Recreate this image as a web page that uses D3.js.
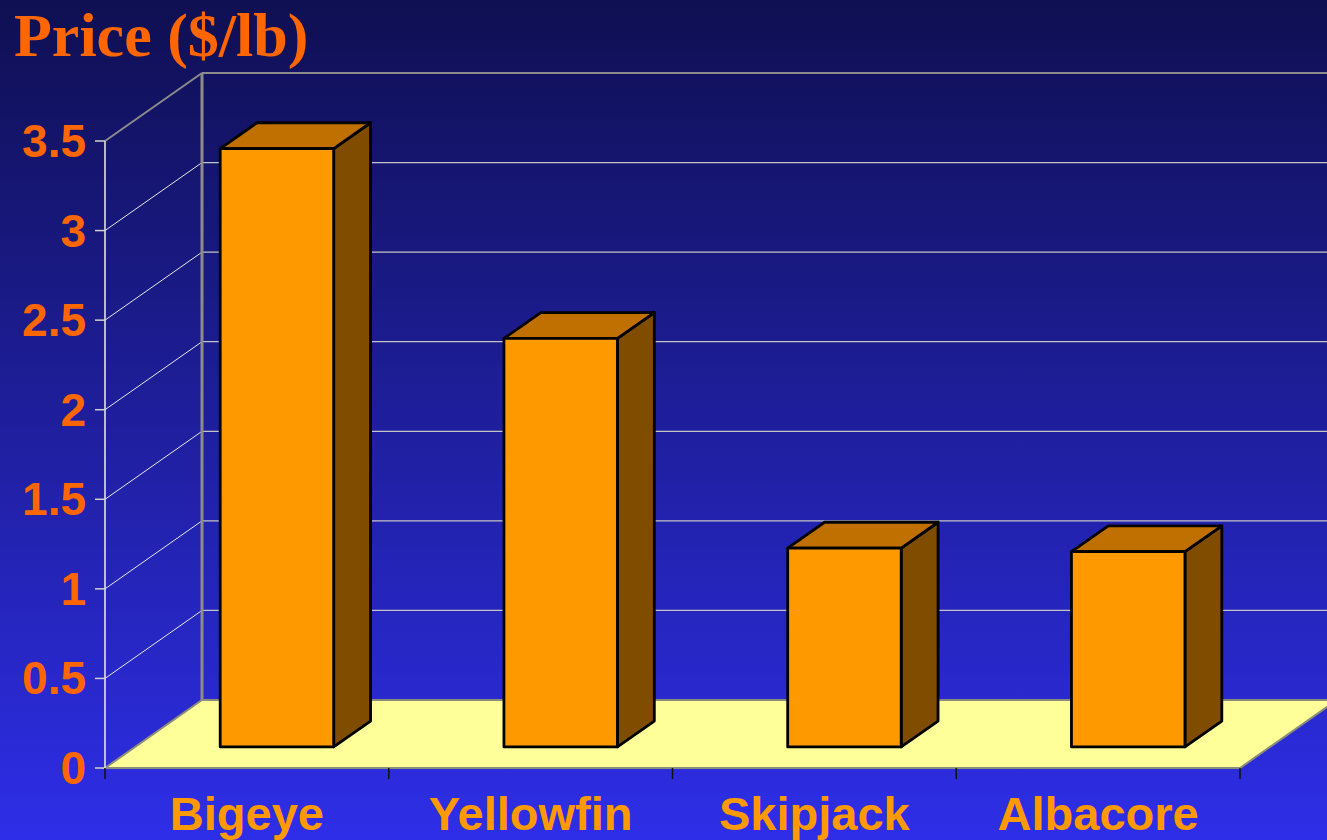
<!DOCTYPE html>
<html>
<head>
<meta charset="utf-8" />
<script src="https://d3js.org/d3.v7.min.js"></script>
<style>
  body { margin: 0; background: #10105a; }
  svg { display: block; }
  .ylab { font-family: "Liberation Sans", Arial, sans-serif; font-weight: bold; font-size: 46px; fill: #ff6600; }
  .xlab { font-family: "Liberation Sans", Arial, sans-serif; font-weight: bold; font-size: 47px; fill: #ff9900; }
  .title { font-family: "Liberation Serif", "Times New Roman", serif; font-weight: bold; font-size: 62px; fill: #ff6600; }
</style>
</head>
<body>
<svg width="1327" height="840"></svg>
<script>
var categories = ["Bigeye", "Yellowfin", "Skipjack", "Albacore"];
var prices = [3.34, 2.28, 1.11, 1.09];
var yTicks = [0, 0.5, 1, 1.5, 2, 2.5, 3, 3.5];
var yTickLabels = ["0", "0.5", "1", "1.5", "2", "2.5", "3", "3.5"];

var svg = d3.select("svg"),
    width = +svg.attr("width"),
    height = +svg.attr("height");

// depth offset of the 3d box
var DX = 97, DY = -68;
var barFront = 0.31, barBack = 0.69;

var x = d3.scaleBand().domain(categories).range([105, 1240]).padding(0);
var y = d3.scaleLinear().domain([0, 3.5]).range([768, 141]);
var barW = x.bandwidth() * 0.4;

// background
var defs = svg.append("defs");
var grad = defs.append("linearGradient").attr("id", "bg")
    .attr("x1", 0).attr("y1", 0).attr("x2", 0).attr("y2", 1);
grad.append("stop").attr("offset", "0%").attr("stop-color", "#0f0f52");
grad.append("stop").attr("offset", "100%").attr("stop-color", "#2e2ee8");
svg.append("rect").attr("width", width).attr("height", height).attr("fill", "url(#bg)");

// back wall grid lines
svg.append("g").selectAll("line")
    .data(yTicks.filter(function (d) { return d > 0; }))
    .enter().append("line")
    .attr("x1", 105 + DX).attr("x2", width)
    .attr("y1", function (d) { return y(d) + DY; })
    .attr("y2", function (d) { return y(d) + DY; })
    .attr("stroke", function (d) { return d === 3.5 ? "#8c8c8c" : "#c4c4c4"; })
    .attr("stroke-width", function (d) { return d === 3.5 ? 2 : 1.2; });

// side wall diagonals
svg.append("g").selectAll("line")
    .data(yTicks.filter(function (d) { return d > 0; }))
    .enter().append("line")
    .attr("x1", 105).attr("x2", 105 + DX)
    .attr("y1", function (d) { return y(d); })
    .attr("y2", function (d) { return y(d) + DY; })
    .attr("stroke", function (d) { return d === 3.5 ? "#8c8c8c" : "#e8e8e8"; })
    .attr("stroke-width", function (d) { return d === 3.5 ? 2 : 1; });

// back wall corner
svg.append("line")
    .attr("x1", 105 + DX).attr("x2", 105 + DX)
    .attr("y1", y(0) + DY).attr("y2", y(3.5) + DY)
    .attr("stroke", "#8c8c8c").attr("stroke-width", 3);

// floor
var x0 = x.range()[0], x1 = x.range()[1];
svg.append("path")
    .attr("d", "M" + x0 + "," + y(0) + "L" + (x0 + DX) + "," + (y(0) + DY) +
        "L" + (x1 + DX) + "," + (y(0) + DY) + "L" + x1 + "," + y(0) + "Z")
    .attr("fill", "#ffff99")
    .attr("stroke", "#8c8c7a").attr("stroke-width", 2);

// front value axis
svg.append("line")
    .attr("x1", 105).attr("x2", 105).attr("y1", y(0)).attr("y2", y(3.5))
    .attr("stroke", "#f2f0d8").attr("stroke-width", 1.5);
svg.append("g").selectAll("line").data(yTicks).enter().append("line")
    .attr("x1", 95).attr("x2", 105)
    .attr("y1", function (d) { return y(d); })
    .attr("y2", function (d) { return y(d); })
    .attr("stroke", "#d0d0d0").attr("stroke-width", 1.5);
svg.append("g").selectAll("text").data(yTicks).enter().append("text")
    .attr("class", "ylab")
    .attr("x", 86).attr("y", function (d) { return y(d) + 16; })
    .attr("text-anchor", "end")
    .text(function (d, i) { return yTickLabels[i]; });

// category ticks
var catEdges = categories.map(function (c) { return x(c); }).concat([x1]);
svg.append("g").selectAll("line").data(catEdges).enter().append("line")
    .attr("x1", function (d) { return d; }).attr("x2", function (d) { return d; })
    .attr("y1", y(0)).attr("y2", y(0) + 11)
    .attr("stroke", "#111").attr("stroke-width", 1.5);

// bars
var bars = svg.append("g").selectAll("g")
    .data(categories.map(function (c, i) { return { cat: c, v: prices[i] }; }))
    .enter().append("g")
    .attr("stroke", "#000").attr("stroke-width", 2.8).attr("stroke-linejoin", "round");

function pt(px, py) { return px + "," + py; }

bars.each(function (d) {
    var g = d3.select(this);
    var fx = x(d.cat) + (x.bandwidth() - barW) / 2 + DX * barFront;
    var fb = y(0) + DY * barFront;
    var ft = y(d.v) + DY * barFront;
    var ddx = DX * (barBack - barFront), ddy = DY * (barBack - barFront);
    // side
    g.append("polygon")
        .attr("points", [pt(fx + barW, fb), pt(fx + barW + ddx, fb + ddy),
            pt(fx + barW + ddx, ft + ddy), pt(fx + barW, ft)].join(" "))
        .attr("fill", "#7f4c00");
    // top
    g.append("polygon")
        .attr("points", [pt(fx, ft), pt(fx + ddx, ft + ddy),
            pt(fx + barW + ddx, ft + ddy), pt(fx + barW, ft)].join(" "))
        .attr("fill", "#c07000");
    // front
    g.append("rect")
        .attr("x", fx).attr("y", ft).attr("width", barW).attr("height", fb - ft)
        .attr("fill", "#ff9900");
});

// category labels
svg.append("g").selectAll("text").data(categories).enter().append("text")
    .attr("class", "xlab")
    .attr("x", function (d) { return x(d) + x.bandwidth() / 2; })
    .attr("y", 830)
    .attr("text-anchor", "middle")
    .text(function (d) { return d; });

// title
svg.append("text").attr("class", "title")
    .attr("x", 14).attr("y", 56)
    .text("Price ($/lb)");
</script>
</body>
</html>
